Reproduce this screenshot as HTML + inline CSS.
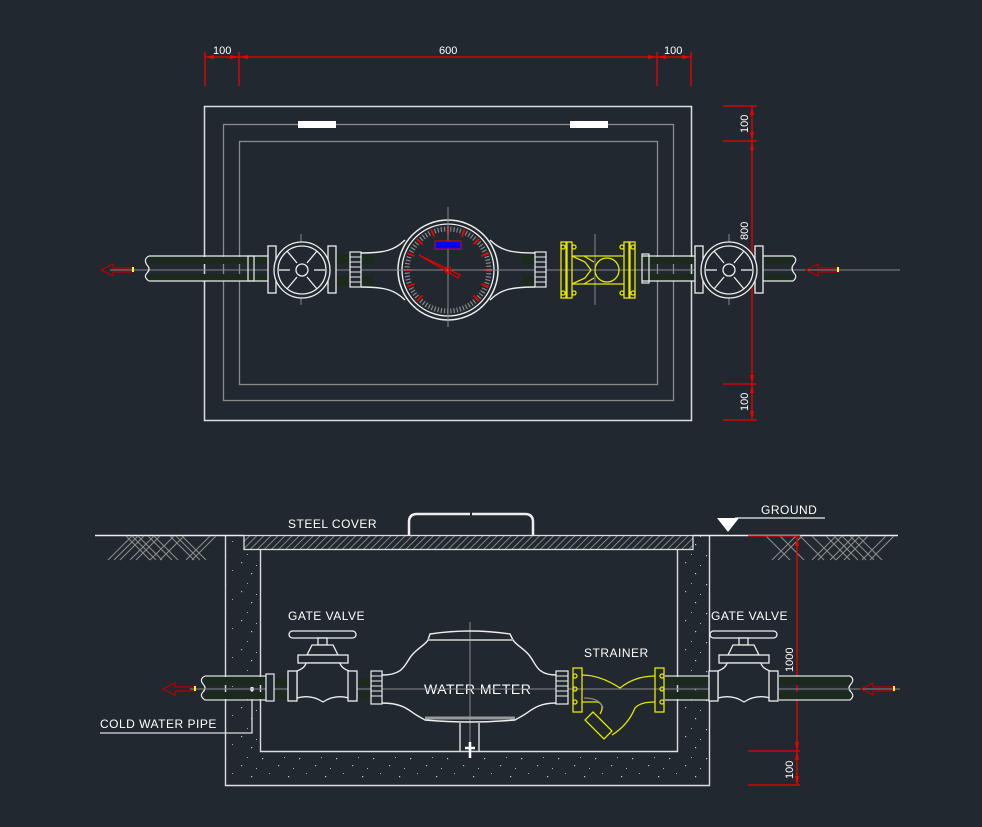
<!DOCTYPE html>
<html><head><meta charset="utf-8"><style>
html,body{margin:0;padding:0;background:#212830;}
svg{display:block;}
text{font-family:"Liberation Sans",sans-serif;fill:#fff;}
</style></head><body>
<svg width="982" height="827" viewBox="0 0 982 827" xmlns="http://www.w3.org/2000/svg">
<defs>
<pattern id="hatch" width="5" height="5" patternUnits="userSpaceOnUse" patternTransform="rotate(45)">
<rect width="5" height="5" fill="#212830"/><line x1="0" y1="0" x2="0" y2="5" stroke="#9a9a9a" stroke-width="1.6"/></pattern>
<pattern id="dots" width="37" height="29" patternUnits="userSpaceOnUse">
<rect x="3" y="4" width="1.2" height="1.2" fill="#ccc"/><rect x="19" y="11" width="1.2" height="1.2" fill="#bbb"/>
<rect x="29" y="22" width="1.2" height="1.2" fill="#ccc"/><rect x="10" y="19" width="1" height="1" fill="#aaa"/>
<rect x="25" y="3" width="1" height="1" fill="#aaa"/><rect x="34" y="14" width="1" height="1" fill="#bbb"/></pattern>
</defs>

<!-- ================= TOP VIEW ================= -->
<g stroke="#e00" stroke-width="1.3" fill="none">
<line x1="205" y1="57" x2="691" y2="57"/>
<line x1="205" y1="52" x2="205" y2="86"/><line x1="239" y1="52" x2="239" y2="86"/>
<line x1="657" y1="52" x2="657" y2="86"/><line x1="691" y1="52" x2="691" y2="86"/>
<line x1="752" y1="106" x2="752" y2="420"/>
<line x1="723" y1="106" x2="757" y2="106"/><line x1="723" y1="141" x2="757" y2="141"/>
<line x1="723" y1="384" x2="757" y2="384"/><line x1="723" y1="420" x2="757" y2="420"/>
</g>
<g fill="#e00">
<polygon points="205,57 214,55 214,59"/><polygon points="239,57 230,55 230,59"/>
<polygon points="239,57 248,55 248,59"/><polygon points="657,57 648,55 648,59"/>
<polygon points="657,57 666,55 666,59"/><polygon points="691,57 682,55 682,59"/>
<polygon points="752,106 750,115 754,115"/><polygon points="752,141 750,132 754,132"/>
<polygon points="752,141 750,150 754,150"/><polygon points="752,384 750,375 754,375"/>
<polygon points="752,384 750,393 754,393"/><polygon points="752,420 750,411 754,411"/>
</g>
<g font-size="11">
<text x="213" y="54">100</text><text x="439" y="54">600</text><text x="664" y="54">100</text>
<text transform="translate(748,133) rotate(-90)">100</text>
<text transform="translate(748,240) rotate(-90)">800</text>
<text transform="translate(748,411) rotate(-90)">100</text>
</g>
<rect x="204.5" y="106.5" width="487" height="314" fill="none" stroke="#ddd" stroke-width="1.5"/>
<rect x="223.5" y="124.5" width="450" height="276" fill="none" stroke="#8a8a8a" stroke-width="1.3"/>
<rect x="239.5" y="141.5" width="418" height="243" fill="none" stroke="#8a8a8a" stroke-width="1.3"/>
<rect x="298" y="121" width="38" height="7" fill="#fff"/>
<rect x="570" y="121" width="38" height="7" fill="#fff"/>
<!-- pipes top -->
<g fill="#1c2a1e">
<rect x="149" y="257" width="101" height="7"/><rect x="149" y="274" width="101" height="7"/>
<rect x="250" y="257" width="18" height="7"/><rect x="250" y="274" width="18" height="7"/>
<rect x="642" y="257" width="53" height="7"/><rect x="642" y="274" width="53" height="7"/>
<rect x="763" y="257" width="30" height="7"/><rect x="763" y="274" width="30" height="7"/>
<rect x="336" y="254" width="14" height="10"/><rect x="336" y="276" width="14" height="10"/>
<rect x="360" y="254" width="14" height="10"/><rect x="360" y="276" width="14" height="10"/>
<rect x="522" y="254" width="14" height="10"/><rect x="522" y="276" width="14" height="10"/>
</g>
<g fill="none" stroke="#eee" stroke-width="1.3">
<path d="M149,256 H268 M149,281 H268 M642,256 H695 M642,281 H695 M763,256 H793 M763,281 H793"/>
</g>
<g stroke="#888" stroke-width="1">
<line x1="110" y1="270" x2="900" y2="270"/>
<line x1="448" y1="207" x2="448" y2="327"/>
<line x1="301" y1="234" x2="301" y2="305"/>
<line x1="729" y1="234" x2="729" y2="305"/>
<line x1="595" y1="234" x2="595" y2="305"/>
</g>
<rect x="248" y="256" width="6" height="25" fill="none" stroke="#eee" stroke-width="1.2"/>
<rect x="642" y="254" width="7" height="29" fill="none" stroke="#eee" stroke-width="1.2"/>
<path d="M149,256 q-6,3 -2,9 q4,4 0,8 q-4,4 2,8" fill="none" stroke="#eee" stroke-width="1.2"/>
<path d="M793,256 q5,3 1,8 q-4,4 0,9 q4,4 -1,8" fill="none" stroke="#eee" stroke-width="1.2"/>
<!-- arrows -->
<path d="M133,268 h-20 v-4 l-12,6 12,6 v-4 h20z" fill="none" stroke="#b00" stroke-width="1.2"/>
<rect x="132" y="267" width="2" height="5" fill="#ff0"/>
<path d="M838,268 h-20 v-4 l-12,6 12,6 v-4 h20z" fill="none" stroke="#b00" stroke-width="1.2"/>
<rect x="837" y="267" width="2" height="5" fill="#ff0"/>
<!-- gate valves top -->
<g fill="#212830" stroke="#eee" stroke-width="1.3">
<rect x="268" y="246" width="8" height="47"/><rect x="328" y="246" width="8" height="47"/>
<circle cx="302" cy="270" r="28"/><circle cx="302" cy="270" r="24"/><circle cx="302" cy="270" r="6"/>
<rect x="695" y="246" width="8" height="47"/><rect x="755" y="246" width="8" height="47"/>
<circle cx="729" cy="270" r="28"/><circle cx="729" cy="270" r="24"/><circle cx="729" cy="270" r="6"/>
</g>
<g stroke="#eee" stroke-width="1.3">
<line x1="290" y1="270" x2="279" y2="270"/><line x1="314" y1="270" x2="325" y2="270"/>
<line x1="297" y1="263" x2="287" y2="251"/><line x1="307" y1="263" x2="317" y2="251"/>
<line x1="297" y1="277" x2="287" y2="289"/><line x1="307" y1="277" x2="317" y2="289"/>
<line x1="717" y1="270" x2="706" y2="270"/><line x1="741" y1="270" x2="752" y2="270"/>
<line x1="724" y1="263" x2="714" y2="251"/><line x1="734" y1="263" x2="744" y2="251"/>
<line x1="724" y1="277" x2="714" y2="289"/><line x1="734" y1="277" x2="744" y2="289"/>
</g>
<!-- unions -->
<g fill="#212830" stroke="#eee" stroke-width="1.2">
<rect x="350" y="252" width="11" height="35"/><rect x="535" y="252" width="11" height="35"/>
</g>
<g stroke="#eee" stroke-width="1">
<path d="M350,257h11M350,262h11M350,267h11M350,272h11M350,277h11M350,282h11"/>
<path d="M535,257h11M535,262h11M535,267h11M535,272h11M535,277h11M535,282h11"/>
</g>
<!-- meter body -->
<path d="M361,253 C385,253 395,250 405,240 M361,287 C385,287 395,290 405,300 M535,253 C510,253 500,250 490,240 M535,287 C510,287 500,290 490,300" fill="none" stroke="#eee" stroke-width="1.4"/>
<circle cx="448" cy="270" r="50" fill="#212830" stroke="#eee" stroke-width="1.5"/>
<circle cx="448" cy="270" r="46" fill="none" stroke="#eee" stroke-width="1.3"/>
<circle cx="448" cy="270" r="41" fill="none" stroke="#888" stroke-width="5" style="stroke-dasharray:1.2 2"/>
<g stroke="#e00" stroke-width="1.8">
<line x1="422.5" y1="295.5" x2="416.9" y2="301.1"/><line x1="414.7" y1="283.8" x2="407.3" y2="286.8"/>
<line x1="412" y1="270" x2="404" y2="270"/><line x1="414.7" y1="256.2" x2="407.3" y2="253.2"/>
<line x1="422.5" y1="244.5" x2="416.9" y2="238.9"/><line x1="434.2" y1="236.7" x2="431.2" y2="229.3"/>
<line x1="448" y1="234" x2="448" y2="226"/><line x1="461.8" y1="236.7" x2="464.8" y2="229.3"/>
<line x1="473.5" y1="244.5" x2="479.1" y2="238.9"/><line x1="481.3" y1="256.2" x2="488.7" y2="253.2"/>
<line x1="484" y1="270" x2="492" y2="270"/><line x1="481.3" y1="283.8" x2="488.7" y2="286.8"/>
<line x1="473.5" y1="295.5" x2="479.1" y2="301.1"/>
</g>
<line x1="448" y1="207" x2="448" y2="327" stroke="#888" stroke-width="1"/>
<line x1="395" y1="270" x2="500" y2="270" stroke="#888" stroke-width="1"/>
<rect x="435" y="241" width="26" height="8" fill="#00f" stroke="#e00" stroke-width="1"/>
<polygon points="419,255 460,275 458,278" fill="none" stroke="#e00" stroke-width="1.2"/>
<circle cx="448" cy="270" r="3" fill="none" stroke="#e00" stroke-width="1.2"/>
<!-- strainer top (yellow) -->
<g fill="none" stroke="#e8e800" stroke-width="1.3">
<rect x="561" y="242" width="5" height="56"/><rect x="567" y="242" width="5" height="56"/>
<rect x="624" y="242" width="5" height="56"/><rect x="630" y="242" width="5" height="56"/>
<path d="M572,256 H624 M572,284 H624"/>
<path d="M572,256 L585,262 L591,270 L585,278 L572,284"/>
<path d="M594,262 L584,256 M594,278 L584,284"/>
<circle cx="607" cy="270" r="12"/>
<circle cx="563" cy="247" r="2"/><circle cx="563" cy="293" r="2"/><circle cx="574" cy="247" r="2"/><circle cx="574" cy="293" r="2"/>
<circle cx="622" cy="247" r="2"/><circle cx="622" cy="293" r="2"/><circle cx="633" cy="247" r="2"/><circle cx="633" cy="293" r="2"/>
</g>

<!-- ================= SECTION VIEW ================= -->
<path d="M225,535 H709 V785 H225 Z M260,550 V751 H677 V550 Z" fill="url(#dots)" fill-rule="evenodd"/>
<path d="M225.5,535 V785.5 H709.5 V535" fill="none" stroke="#ddd" stroke-width="1.4"/>
<path d="M260.5,550 V751.5 H677.5 V550" fill="none" stroke="#ddd" stroke-width="1.4"/>
<line x1="95" y1="535.5" x2="244" y2="535.5" stroke="#eee" stroke-width="1.5"/>
<line x1="693" y1="535.5" x2="898" y2="535.5" stroke="#eee" stroke-width="1.5"/>
<rect x="244" y="535.5" width="449" height="14" fill="url(#hatch)" stroke="#ddd" stroke-width="1.3"/>
<path d="M409,535 V522 Q409,514 417,514 H525 Q533,514 533,522 V535" fill="none" stroke="#eee" stroke-width="2.5"/>
<line x1="471" y1="512" x2="471" y2="518" stroke="#212830" stroke-width="2"/>
<g stroke="#8a8a8a" stroke-width="1.1">
<path d="M108,560 l24,-24 M114,560 l24,-24 M120,560 l24,-24 M130,560 l24,-24 M136,560 l24,-24 M150,560 l24,-24 M160,560 l24,-24 M186,560 l24,-24 M192,560 l24,-24"/>
<path d="M126,536 l24,24 M132,536 l24,24 M138,536 l24,24 M148,536 l24,24 M154,536 l24,24 M170,536 l24,24 M176,536 l24,24 M182,536 l24,24"/>
<path d="M772,560 l24,-24 M778,560 l24,-24 M812,560 l24,-24 M818,560 l24,-24 M830,560 l24,-24 M836,560 l24,-24 M844,560 l24,-24 M862,560 l24,-24 M870,560 l24,-24"/>
<path d="M766,536 l24,24 M780,536 l24,24 M800,536 l24,24 M812,536 l24,24 M826,536 l24,24 M834,536 l24,24 M842,536 l24,24 M850,536 l24,24 M858,536 l24,24"/>
</g>
<line x1="735" y1="518" x2="825" y2="518" stroke="#eee" stroke-width="1.3"/>
<polygon points="717,518 739,518 728,532" fill="#fff"/>
<g font-size="12" style="letter-spacing:0.5px">
<text x="761" y="514">GROUND</text>
<text x="288" y="528">STEEL COVER</text>
<text x="288" y="620">GATE VALVE</text>
<text x="711" y="620">GATE VALVE</text>
<text x="584" y="657">STRAINER</text>
<text x="100" y="728">COLD WATER PIPE</text>
<text x="424" y="694" font-size="14">WATER METER</text>
</g>
<path d="M100,733 H252 V690" fill="none" stroke="#ddd" stroke-width="1.3"/>
<circle cx="252" cy="689" r="2" fill="#fff"/>
<g stroke="#e00" stroke-width="1.3">
<line x1="797" y1="537" x2="797" y2="785"/>
<line x1="748" y1="536" x2="800" y2="536"/>
<line x1="748" y1="751" x2="800" y2="751"/>
<line x1="748" y1="785" x2="800" y2="785"/>
</g>
<g fill="#e00">
<polygon points="797,537 795,546 799,546"/><polygon points="797,751 795,742 799,742"/>
<polygon points="797,751 795,760 799,760"/><polygon points="797,785 795,776 799,776"/>
</g>
<g font-size="11"><text transform="translate(793,672) rotate(-90)">1000</text><text transform="translate(793,779) rotate(-90)">100</text></g>
<g fill="#1c2a1e">
<rect x="205" y="677" width="62" height="8"/><rect x="205" y="692" width="62" height="7"/>
<rect x="275" y="678" width="14" height="8"/><rect x="275" y="691" width="14" height="8"/>
<rect x="358" y="678" width="14" height="8"/><rect x="358" y="691" width="14" height="8"/>
<rect x="779" y="677" width="71" height="8"/><rect x="779" y="692" width="71" height="7"/>
<rect x="665" y="677" width="45" height="8"/><rect x="665" y="692" width="45" height="7"/>
</g>
<path d="M205,676 H267 M205,700 H267 M665,676 H710 M665,700 H710 M779,676 H850 M779,700 H850" fill="none" stroke="#ddd" stroke-width="1.2"/>
<path d="M205,676 q-6,3 -2,8 q4,4 0,8 q-4,4 2,8" fill="none" stroke="#eee" stroke-width="1.2"/>
<path d="M850,676 q5,3 1,8 q-4,4 0,8 q4,4 -1,8" fill="none" stroke="#eee" stroke-width="1.2"/>
<line x1="190" y1="689" x2="900" y2="689" stroke="#888" stroke-width="1"/>
<line x1="470" y1="622" x2="470" y2="745" stroke="#888" stroke-width="1"/>
<rect x="266" y="674" width="8" height="27" fill="#212830" stroke="#eee" stroke-width="1.2"/>
<path d="M195,687 h-20 v-4 l-12,6 12,6 v-4 h20z" fill="none" stroke="#b00" stroke-width="1.2"/>
<rect x="194" y="686" width="2" height="5" fill="#ff0"/>
<path d="M893,687 h-20 v-4 l-12,6 12,6 v-4 h20z" fill="none" stroke="#b00" stroke-width="1.2"/>
<rect x="893" y="686" width="2" height="5" fill="#ff0"/>
<g id="gv" fill="#212830" stroke="#eee" stroke-width="1.3">
<rect x="289" y="631" width="67" height="7" rx="3.5"/>
<rect x="318" y="638" width="9" height="7"/>
<path d="M312,645 H333 L338,655 H307 Z"/>
<rect x="298" y="655" width="50" height="8"/>
<path d="M297,671 Q305,668 306,663 H340 Q341,668 349,671 V698 Q335,694 323,702 Q311,694 297,698 Z"/>
<rect x="288" y="671" width="9" height="30"/><rect x="348" y="671" width="9" height="30"/>
</g>
<use href="#gv" transform="translate(421,0)"/>
<g fill="#212830" stroke="#eee" stroke-width="1.2">
<rect x="371" y="671" width="11" height="33"/><rect x="556" y="671" width="12" height="33"/>
</g>
<g stroke="#eee" stroke-width="1">
<path d="M371,676h11M371,681h11M371,686h11M371,691h11M371,696h11"/>
<path d="M556,676h12M556,681h12M556,686h12M556,691h12M556,696h12"/>
</g>
<path d="M382,675 C405,675 405,663 412,655 C418,648 425,645 428,640 L430,634 Q470,628 510,634 L513,640 C516,645 523,648 529,655 C536,663 536,675 556,675 M382,703 C405,703 410,712 418,716 L425,720 Q470,724 515,720 L522,716 C530,712 536,703 556,703" fill="none" stroke="#eee" stroke-width="1.4"/>
<line x1="428" y1="640" x2="513" y2="640" stroke="#aaa" stroke-width="2"/>
<line x1="425" y1="718" x2="515" y2="718" stroke="#999" stroke-width="3"/>
<path d="M460,723 V751 M479,723 V751" stroke="#eee" stroke-width="1.3"/>
<path d="M470,742 V758 M465,748 H475" stroke="#fff" stroke-width="2.5"/>
<g fill="none" stroke="#e8e800" stroke-width="1.3">
<rect x="573" y="668" width="9" height="44"/><rect x="655" y="668" width="9" height="44"/>
<path d="M582,675 Q600,675 620,688 Q635,676 655,676"/>
<path d="M582,702 H598 Q605,705 600,714 M655,702 Q640,702 635,708 Q628,725 612,735"/>
<path d="M593,712 L612,731 L604,739 L585,720 Z"/>
<circle cx="575" cy="676" r="2"/><circle cx="575" cy="689" r="2"/><circle cx="575" cy="702" r="2"/>
<circle cx="662" cy="676" r="2"/><circle cx="662" cy="689" r="2"/><circle cx="662" cy="702" r="2"/>
</g>
<path d="M584,698 Q600,698 603,708" fill="none" stroke="#888" stroke-width="1.2"/>
</svg>
</body></html>
